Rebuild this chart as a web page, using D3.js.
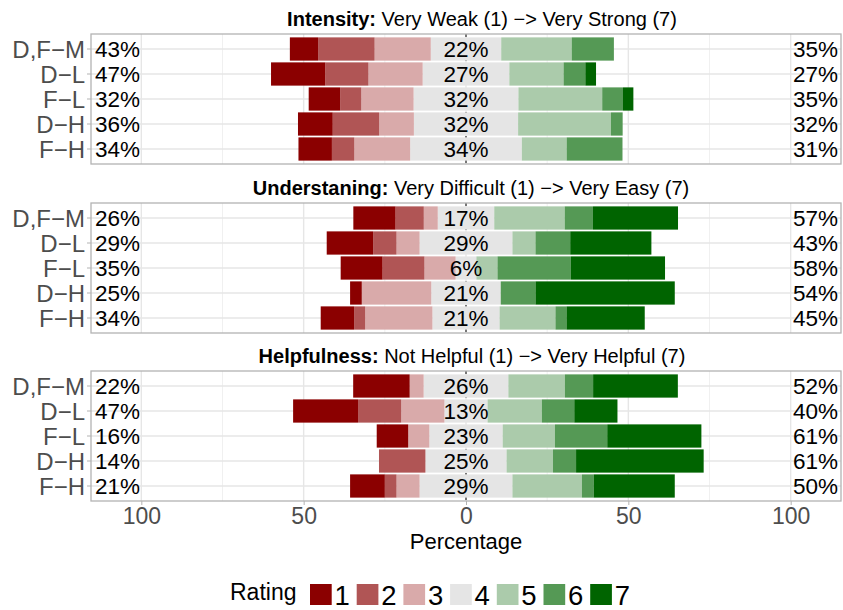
<!DOCTYPE html>
<html>
<head>
<meta charset="utf-8">
<script src="https://cdn.jsdelivr.net/npm/d3@7"></script>
<style>
  body { margin: 0; background: #fff; }
  text { font-family: "Liberation Sans", Arial, Helvetica, sans-serif; }
</style>
</head>
<body>
<svg id="chart" width="843" height="610"></svg>
<script>
// groups shown on the y axis, top to bottom
const groups = ["D,F\u2212M", "D\u2212L", "F\u2212L", "D\u2212H", "F\u2212H"];
const ratings = ["1", "2", "3", "4", "5", "6", "7"];
const ratingColors = ["#8B0000", "#B05555", "#D9AAAA", "#E5E5E5", "#ABCBAB", "#559955", "#006400"];

const questionNames = ["Intensity:", "Understaning:", "Helpfulness:"];
const questionScales = [
    " Very Weak (1) \u2212> Very Strong (7)",
    " Very Difficult (1) \u2212> Very Easy (7)",
    " Not Helpful (1) \u2212> Very Helpful (7)"
];

// percentage per rating 1..7, one row per group
const intensity = [
    [8.7, 17.4, 17.3, 21.7, 21.7, 13.0, 0],
    [16.7, 13.3, 16.7, 26.7, 16.7, 6.7, 3.3],
    [9.7, 6.5, 16.1, 32.3, 25.8, 6.4, 3.2],
    [10.7, 14.3, 10.7, 32.1, 28.6, 3.6, 0],
    [10.3, 6.9, 17.2, 34.4, 13.8, 17.2, 0]
];
const understanding = [
    [13.0, 8.7, 4.3, 17.4, 21.7, 8.7, 26.2],
    [14.3, 7.2, 7.1, 28.6, 7.1, 10.7, 25.0],
    [12.9, 12.9, 9.6, 6.4, 6.5, 22.6, 29.0],
    [3.6, 0, 21.4, 21.4, 0, 10.7, 42.9],
    [10.3, 3.4, 20.7, 20.7, 17.2, 3.4, 24.1]
];
const helpfulness = [
    [17.4, 0, 4.3, 26.1, 17.4, 8.7, 26.1],
    [20.0, 13.3, 13.3, 13.3, 16.7, 10.0, 13.3],
    [9.7, 0, 6.5, 22.6, 16.1, 16.1, 29.0],
    [0, 14.3, 0, 25.0, 14.3, 7.1, 39.3],
    [10.7, 3.6, 7.1, 28.6, 21.4, 3.6, 25.0]
];
const panelData = [intensity, understanding, helpfulness];

const xTicks = [-100, -50, 0, 50, 100];
const xMinor = [-75, -25, 25, 75];

const svg = d3.select("#chart");

const panelLeft = 91, panelRight = 841, panelH = 130;
const panelTops = [34, 203, 371];
const titleCenters = [482, 471, 472];

const x = d3.scaleLinear().domain([-115.5, 115.5]).range([panelLeft, panelRight]);
const y = d3.scalePoint().domain(groups).range([0, panelH]).padding(0.6);
const barH = y.step() * 0.93;

const color = d3.scaleOrdinal().domain(ratings).range(ratingColors);

// turn one row of percentages into stacked segments around zero
function segments(row) {
    const out = [];
    const half = row[3] / 2;
    out.push({ r: 3, x0: -half, x1: half });
    let pos = -half;
    for (let i = 2; i >= 0; i--) {
        out.push({ r: i, x0: pos - row[i], x1: pos });
        pos -= row[i];
    }
    pos = half;
    for (let i = 4; i < 7; i++) {
        out.push({ r: i, x0: pos, x1: pos + row[i] });
        pos += row[i];
    }
    return out;
}

panelData.forEach((data, p) => {
    const top = panelTops[p];
    const g = svg.append("g").attr("transform", `translate(0,${top})`);

    // title
    const title = svg.append("text")
        .attr("x", titleCenters[p])
        .attr("y", top - 8)
        .attr("text-anchor", "middle")
        .style("font-size", "20px")
        .attr("fill", "#000");
    title.append("tspan").attr("font-weight", "bold").text(questionNames[p]);
    title.append("tspan").text(questionScales[p]);

    // grid
    g.selectAll(".minor").data(xMinor).enter().append("line")
        .attr("x1", d => x(d)).attr("x2", d => x(d))
        .attr("y1", 0).attr("y2", panelH)
        .attr("stroke", "#F0F0F0").attr("stroke-width", 1);
    g.selectAll(".major").data(xTicks).enter().append("line")
        .attr("x1", d => x(d)).attr("x2", d => x(d))
        .attr("y1", 0).attr("y2", panelH)
        .attr("stroke", "#E6E6E6").attr("stroke-width", 1.4);
    g.selectAll(".hgrid").data(groups).enter().append("line")
        .attr("x1", panelLeft).attr("x2", panelRight)
        .attr("y1", d => y(d)).attr("y2", d => y(d))
        .attr("stroke", "#E6E6E6").attr("stroke-width", 1.4);

    // dashed zero line
    g.append("line")
        .attr("x1", x(0)).attr("x2", x(0))
        .attr("y1", 0).attr("y2", panelH)
        .attr("stroke", "#000").attr("stroke-width", 1)
        .attr("stroke-dasharray", "3,3");

    // bars
    data.forEach((row, i) => {
        const cy = y(groups[i]);
        g.selectAll(null).data(segments(row).filter(s => s.x1 > s.x0)).enter()
            .append("rect")
            .attr("x", s => x(s.x0))
            .attr("width", s => x(s.x1) - x(s.x0))
            .attr("y", cy - barH / 2)
            .attr("height", barH)
            .attr("fill", s => color(ratings[s.r]));

        const left = row[0] + row[1] + row[2];
        const right = row[4] + row[5] + row[6];
        const labels = [
            { v: left, x: panelLeft + 4, a: "start" },
            { v: row[3], x: x(0), a: "middle" },
            { v: right, x: panelRight - 3, a: "end" }
        ];
        g.selectAll(null).data(labels).enter().append("text")
            .attr("x", d => d.x)
            .attr("y", cy + 8)
            .attr("text-anchor", d => d.a)
            .style("font-size", "22.5px")
            .attr("fill", "#000")
            .text(d => Math.round(d.v) + "%");
    });

    // y axis labels and ticks
    g.selectAll(".ytick").data(groups).enter().append("line")
        .attr("x1", panelLeft - 4).attr("x2", panelLeft)
        .attr("y1", d => y(d)).attr("y2", d => y(d))
        .attr("stroke", "#B3B3B3").attr("stroke-width", 1);
    g.selectAll(".ylab").data(groups).enter().append("text")
        .attr("x", panelLeft - 6)
        .attr("y", d => y(d) + 8.5)
        .attr("text-anchor", "end")
        .style("font-size", "24px")
        .attr("fill", "#4D4D4D")
        .text(d => d);

    // border
    g.append("rect")
        .attr("x", panelLeft).attr("y", 0)
        .attr("width", panelRight - panelLeft).attr("height", panelH)
        .attr("fill", "none").attr("stroke", "#B3B3B3").attr("stroke-width", 1.3);
});

// x axis below the last panel
const axisY = panelTops[2] + panelH;
const xAxis = d3.axisBottom(x)
    .tickValues(xTicks)
    .tickSize(4)
    .tickPadding(3)
    .tickFormat(d => Math.abs(d));
const ax = svg.append("g").attr("transform", `translate(0,${axisY})`).call(xAxis);
ax.select(".domain").remove();
ax.selectAll(".tick line").attr("stroke", "#B3B3B3");
ax.selectAll(".tick text")
    .attr("fill", "#4D4D4D")
    .style("font-size", "23px")
    .style("font-family", "'Liberation Sans', Arial, sans-serif");

svg.append("text")
    .attr("x", x(0))
    .attr("y", 549)
    .attr("text-anchor", "middle")
    .style("font-size", "22px")
    .attr("fill", "#000")
    .text("Percentage");

// legend
const legend = svg.append("g");
legend.append("text")
    .attr("x", 230).attr("y", 600)
    .style("font-size", "23px")
    .attr("fill", "#000")
    .text("Rating");
const keys = legend.selectAll(".key").data(ratings).enter().append("g")
    .attr("transform", (d, i) => `translate(${310 + i * 46.7},584)`);
keys.append("rect")
    .attr("width", 21.7).attr("height", 21)
    .attr("fill", d => color(d));
keys.append("text")
    .attr("x", 24.5).attr("y", 20.5)
    .style("font-size", "27.5px")
    .attr("fill", "#000")
    .text(d => d);
</script>
</body>
</html>
